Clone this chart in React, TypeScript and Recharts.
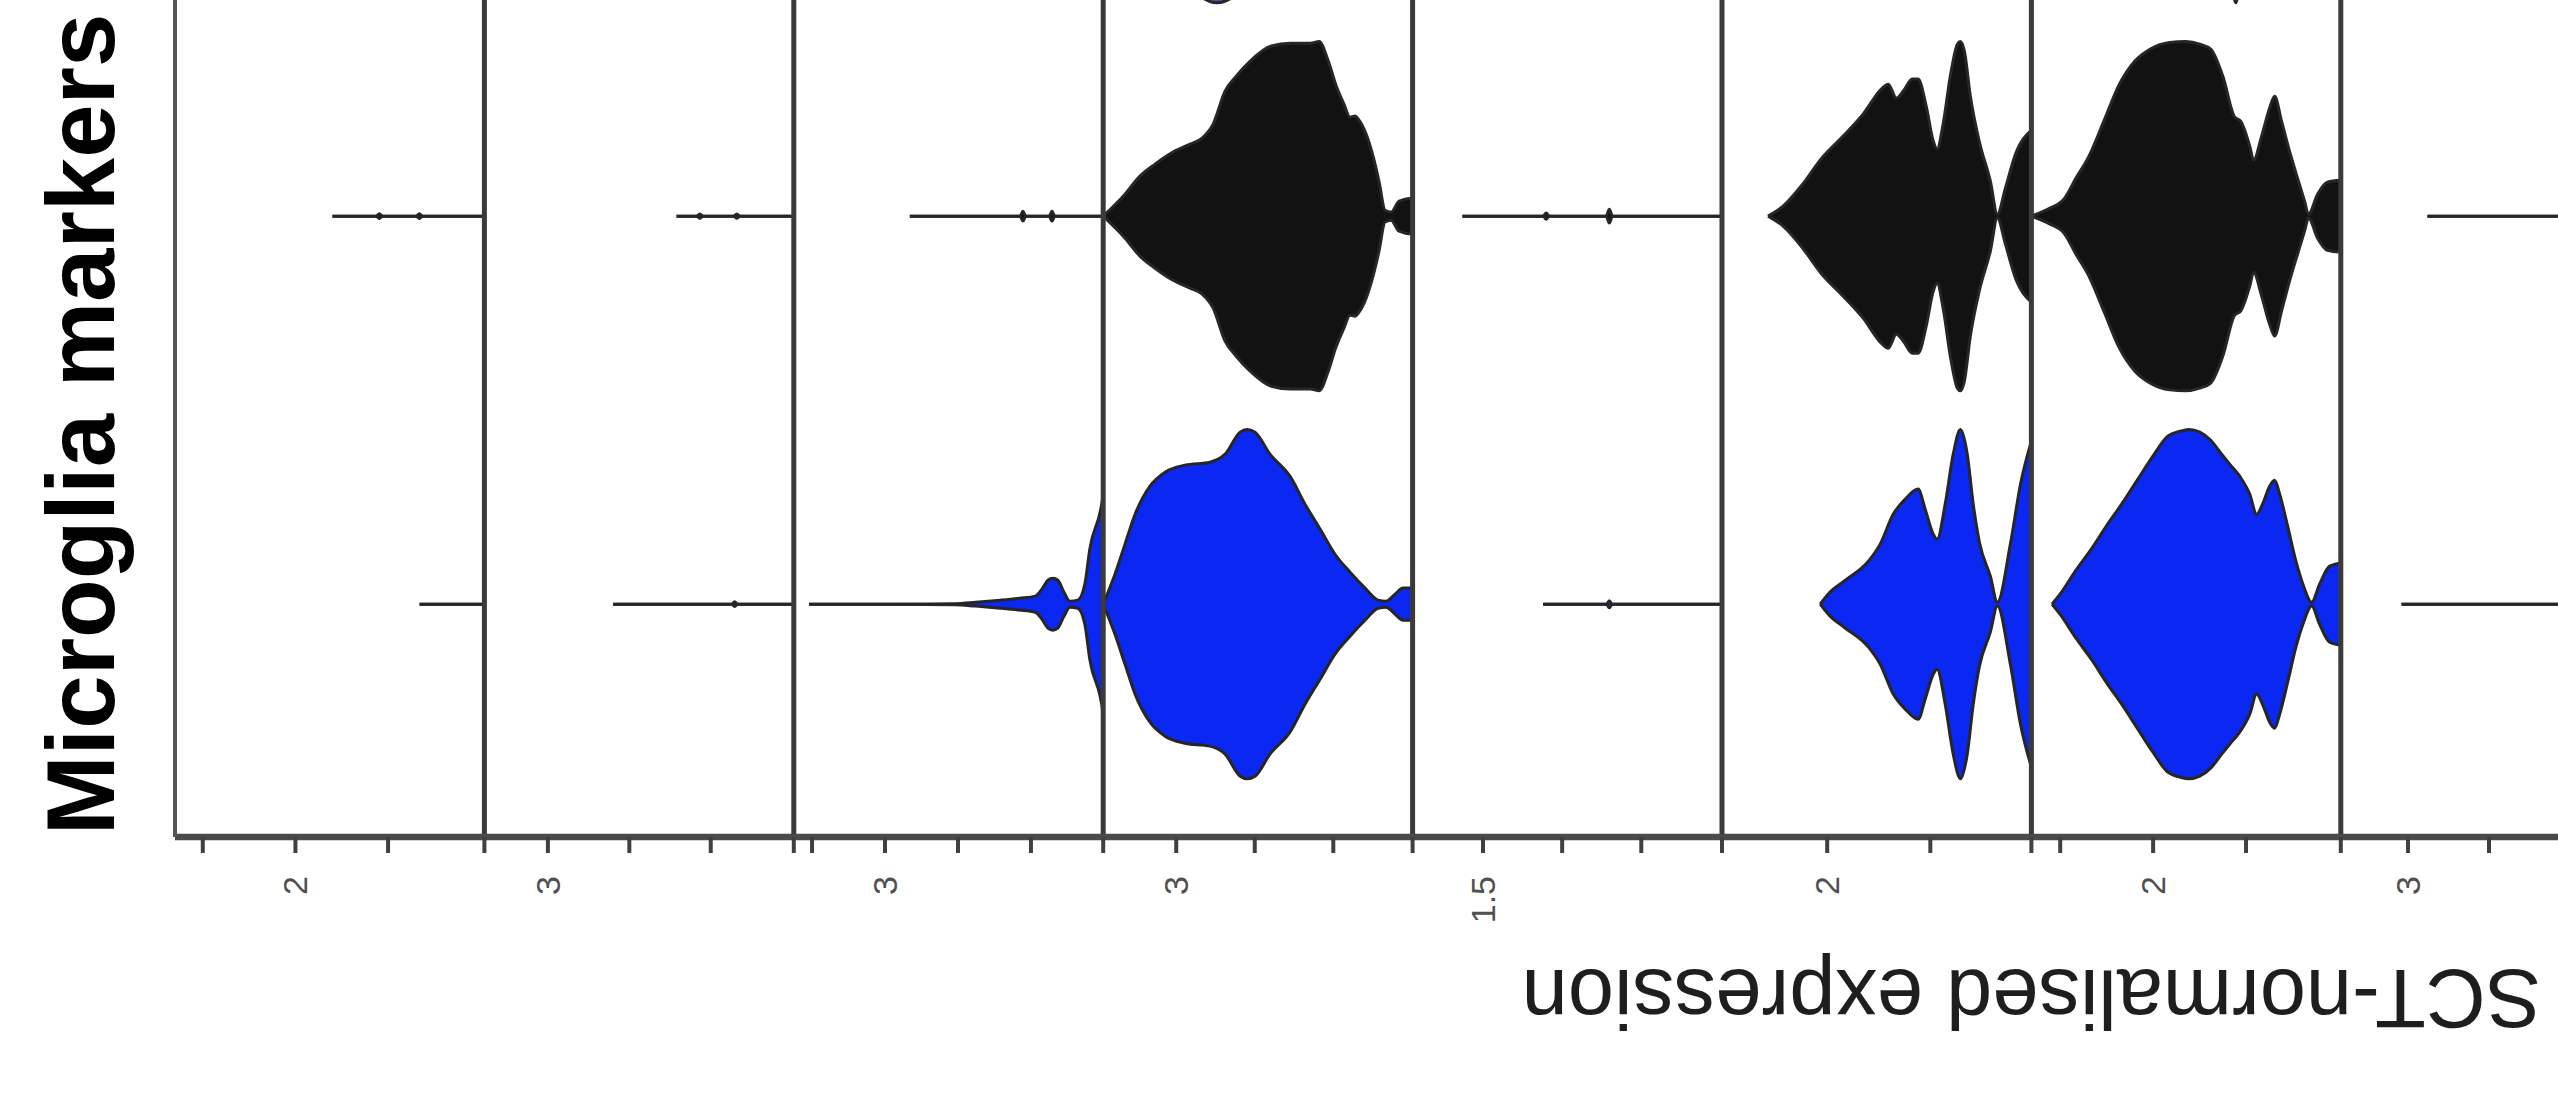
import React from "react";
import { ComposedChart, Area, XAxis, YAxis, ReferenceLine, Label } from "recharts";

type Pt = [number, number]; // [SCT-normalised expression, half width as share of the widest violin]

// one column per gene, each with its own expression range (free x scales)
const geneLo = [1.35, 2.61, 2.375, 2.535, 1.055, 1.49, 1.345, 2.585];
const geneHi = [3.02, 4.51, 4.495, 4.505, 3.01, 2.99, 3.01, 4.495];
const geneTicks = [
  [1.5, 2, 2.5, 3],
  [3, 3.5, 4, 4.5],
  [2.5, 3, 3.5, 4, 4.5],
  [3, 3.5, 4, 4.5],
  [1.5, 2, 2.5, 3],
  [1.5, 2, 2.5, 3],
  [1.5, 2, 2.5, 3],
  [3, 3.5, 4, 4.5],
];
const geneTickLabel = ["2", "3", "3", "3", "1.5", "2", "2", "3"];

// clusters (rows), bottom to top
const ROW_BLUE = 1;
const ROW_BLACK = 2;
const ROW_STEEL = 3;

// --- blue cluster ---
const blueG1: Pt[] = [[2.67, 0], [3.0, 0]];
const blueG2: Pt[] = [[3.4, 0], [4.13, 0], [4.147, 0.014], [4.165, 0], [4.5, 0]];
const blueG3: Pt[] = [
  [2.48, 0], [3.1, 0], [3.48, 0.003], [3.62, 0.011], [3.79, 0.023], [3.92, 0.034],
  [4.03, 0.046], [4.075, 0.086], [4.116, 0.137], [4.15, 0.149], [4.184, 0.137],
  [4.226, 0.069], [4.267, 0.017], [4.321, 0.023], [4.369, 0.115], [4.403, 0.315],
  [4.438, 0.63], [4.465, 0.916], [4.492, 1.0],
];
const blueG4: Pt[] = [
  [2.566, 0], [2.61, 0.172], [2.674, 0.344], [2.738, 0.515], [2.833, 0.676],
  [2.929, 0.756], [3.056, 0.796], [3.215, 0.813], [3.311, 0.859], [3.407, 0.985],
  [3.451, 1.0], [3.502, 0.985], [3.597, 0.859], [3.724, 0.733], [3.82, 0.573],
  [3.916, 0.43], [4.011, 0.286], [4.107, 0.183], [4.202, 0.092], [4.285, 0.023],
  [4.336, 0.017], [4.393, 0.057], [4.444, 0.092], [4.49, 0.092],
];
const blueG5: Pt[] = [[1.88, 0], [2.28, 0], [2.298, 0.02], [2.316, 0], [3.0, 0]];
const blueG6: Pt[] = [
  [1.966, 0], [2.014, 0.069], [2.082, 0.132], [2.204, 0.252], [2.257, 0.344],
  [2.32, 0.515], [2.378, 0.601], [2.441, 0.659], [2.475, 0.544], [2.514, 0.401],
  [2.533, 0.372], [2.572, 0.573], [2.611, 0.859], [2.646, 1.0], [2.679, 0.859],
  [2.708, 0.573], [2.738, 0.355], [2.791, 0.16], [2.825, 0.011], [2.888, 0.344],
  [2.937, 0.687], [2.99, 0.934],
];
const blueG7: Pt[] = [
  [1.456, 0], [1.499, 0.057], [1.585, 0.195], [1.671, 0.321], [1.751, 0.452],
  [1.838, 0.584], [1.918, 0.716], [1.999, 0.848], [2.079, 0.962], [2.144, 0.99],
  [2.192, 1.0], [2.251, 0.985], [2.31, 0.939], [2.369, 0.859], [2.412, 0.802],
  [2.466, 0.733], [2.52, 0.63], [2.557, 0.515], [2.589, 0.573], [2.627, 0.676],
  [2.654, 0.71], [2.681, 0.63], [2.724, 0.447], [2.767, 0.252], [2.81, 0.103],
  [2.853, 0.011], [2.896, 0.115], [2.95, 0.218], [3.003, 0.235],
];
const blueG8: Pt[] = [[2.96, 0], [4.49, 0]];

// --- black cluster ---
const blackG1: Pt[] = [[2.2, 0], [2.435, 0], [2.453, 0.014], [2.471, 0], [2.651, 0], [2.669, 0.014], [2.687, 0], [3.0, 0]];
const blackG2: Pt[] = [[3.79, 0], [3.915, 0], [3.933, 0.012], [3.951, 0], [4.142, 0], [4.16, 0.012], [4.178, 0], [4.5, 0]];
const blackG3: Pt[] = [[3.17, 0], [3.925, 0], [3.945, 0.028], [3.965, 0], [4.124, 0], [4.144, 0.028], [4.164, 0], [4.49, 0]];
const blackG4: Pt[] = [
  [2.578, 0], [2.674, 0.126], [2.769, 0.229], [2.865, 0.298], [2.98, 0.367],
  [3.088, 0.412], [3.165, 0.447], [3.235, 0.527], [3.311, 0.716], [3.382, 0.802],
  [3.471, 0.888], [3.605, 0.974], [3.726, 0.99], [3.853, 0.99], [3.91, 1.0],
  [3.968, 0.888], [4.017, 0.75], [4.068, 0.641], [4.106, 0.567], [4.138, 0.573],
  [4.164, 0.55], [4.209, 0.47], [4.253, 0.344], [4.291, 0.2], [4.329, 0.034],
  [4.368, 0.023], [4.419, 0.086], [4.457, 0.103], [4.489, 0.092],
];
const blackG5: Pt[] = [[1.37, 0], [1.88, 0], [1.899, 0.018], [1.918, 0], [2.278, 0], [2.298, 0.04], [2.318, 0], [3.0, 0]];
const blackG6: Pt[] = [
  [1.713, 0], [1.786, 0.057], [1.878, 0.178], [1.966, 0.321], [2.082, 0.464],
  [2.174, 0.584], [2.267, 0.733], [2.296, 0.756], [2.335, 0.676], [2.369, 0.716],
  [2.413, 0.785], [2.441, 0.785], [2.48, 0.63], [2.514, 0.43], [2.533, 0.384],
  [2.562, 0.527], [2.597, 0.802], [2.631, 0.985], [2.646, 1.0], [2.665, 0.945],
  [2.694, 0.687], [2.738, 0.424], [2.791, 0.2], [2.825, 0.011], [2.864, 0.16],
  [2.913, 0.355], [2.99, 0.493],
];
const blackG7: Pt[] = [
  [1.375, 0], [1.445, 0.046], [1.52, 0.097], [1.585, 0.218], [1.655, 0.344],
  [1.735, 0.544], [1.816, 0.75], [1.902, 0.888], [1.983, 0.956], [2.09, 0.995],
  [2.176, 1.0], [2.251, 0.985], [2.31, 0.956], [2.375, 0.802], [2.439, 0.567],
  [2.471, 0.544], [2.52, 0.401], [2.541, 0.321], [2.584, 0.458], [2.627, 0.619],
  [2.654, 0.687], [2.691, 0.544], [2.734, 0.372], [2.777, 0.218], [2.815, 0.086],
  [2.836, 0.011], [2.885, 0.126], [2.938, 0.195], [3.003, 0.206],
];
const blackG8: Pt[] = [[3.12, 0], [4.49, 0]];

// --- cluster above (only its lower tips are in view) ---
const steelG4: Pt[] = [[2.833, 0.3], [3.056, 0.8], [3.165, 0.97], [3.26, 1.0], [3.356, 0.97], [3.47, 0.85], [3.79, 0.4]];
const steelG7: Pt[] = [[2.36, 0.4], [2.42, 0.85], [2.445, 1.0], [2.47, 0.85], [2.53, 0.4]];

const BLUE = "#0b27f2";
const BLACK = "#121212";
const STEEL = "#3d5d9c";
const OUTLINE = "#262626";
const HALF = 0.45; // violin width 0.9 of a row

const W = 2558;
const H = 1113;
const PLOT_LEFT = 175;
const PANEL_PX = 309.4;
const X_MAX = (W - PLOT_LEFT) / PANEL_PX;
const N_GENES_TOTAL = 12; // full figure; the title sits at its centre

const FONT = "'Liberation Sans', Arial, Helvetica, sans-serif";

function toGlobal(gene: number, v: number) {
  const g = gene + (v - geneLo[gene]) / (geneHi[gene] - geneLo[gene]);
  const r = Math.round(g);
  return Math.abs(g - r) < 0.03 ? r : g;
}

const violins = [
  { key: "blue1", row: ROW_BLUE, gene: 0, pts: blueG1, fill: BLUE },
  { key: "blue2", row: ROW_BLUE, gene: 1, pts: blueG2, fill: BLUE },
  { key: "blue3", row: ROW_BLUE, gene: 2, pts: blueG3, fill: BLUE },
  { key: "blue4", row: ROW_BLUE, gene: 3, pts: blueG4, fill: BLUE },
  { key: "blue5", row: ROW_BLUE, gene: 4, pts: blueG5, fill: BLUE },
  { key: "blue6", row: ROW_BLUE, gene: 5, pts: blueG6, fill: BLUE },
  { key: "blue7", row: ROW_BLUE, gene: 6, pts: blueG7, fill: BLUE },
  { key: "blue8", row: ROW_BLUE, gene: 7, pts: blueG8, fill: BLUE },
  { key: "black1", row: ROW_BLACK, gene: 0, pts: blackG1, fill: BLACK },
  { key: "black2", row: ROW_BLACK, gene: 1, pts: blackG2, fill: BLACK },
  { key: "black3", row: ROW_BLACK, gene: 2, pts: blackG3, fill: BLACK },
  { key: "black4", row: ROW_BLACK, gene: 3, pts: blackG4, fill: BLACK },
  { key: "black5", row: ROW_BLACK, gene: 4, pts: blackG5, fill: BLACK },
  { key: "black6", row: ROW_BLACK, gene: 5, pts: blackG6, fill: BLACK },
  { key: "black7", row: ROW_BLACK, gene: 6, pts: blackG7, fill: BLACK },
  { key: "black8", row: ROW_BLACK, gene: 7, pts: blackG8, fill: BLACK },
  { key: "steel4", row: ROW_STEEL, gene: 3, pts: steelG4, fill: STEEL },
  { key: "steel7", row: ROW_STEEL, gene: 6, pts: steelG7, fill: STEEL },
];

const chartData: Record<string, any>[] = [];
violins.forEach((vl) => {
  vl.pts.forEach(([e, w]) => {
    chartData.push({ gx: toGlobal(vl.gene, e), [vl.key]: [vl.row - w * HALF, vl.row + w * HALF] });
  });
});

// axis ticks: gene boundaries + each gene's own breaks
const tickSet = new Set<number>();
for (let i = 1; i < geneLo.length; i++) tickSet.add(i);
geneTicks.forEach((ts, i) => ts.forEach((t) => tickSet.add(toGlobal(i, t))));
const xTicks = Array.from(tickSet).filter((t) => t > 0 && t <= X_MAX).sort((a, b) => a - b);
const tickLabels = geneTickLabel.map((lab, i) => ({ gx: toGlobal(i, parseFloat(lab)), text: lab }));

function ExprTick(props: any) {
  const { x, y, payload } = props;
  const hit = tickLabels.find((t) => Math.abs(t.gx - payload.value) < 1e-6);
  if (!hit) return <g />;
  const bx = x + 12;
  const top = y + 21;
  return (
    <text
      x={bx}
      y={top}
      transform={`rotate(-90 ${bx} ${top})`}
      textAnchor="end"
      fontSize={34}
      fill="#505050"
      fontFamily={FONT}
    >
      {hit.text}
    </text>
  );
}

export default function App() {
  return (
    <div
      style={{
        position: "absolute",
        left: 0,
        top: 0,
        width: W,
        height: H,
        overflow: "hidden",
        background: "#fff",
      }}
    >
      <ComposedChart
        width={W}
        height={H}
        data={chartData}
        margin={{ top: 0, right: 0, bottom: 216, left: 0 }}
      >
        <XAxis
          dataKey="gx"
          type="number"
          domain={[0, X_MAX]}
          allowDataOverflow
          ticks={xTicks}
          interval={0}
          height={60}
          tickSize={16}
          axisLine={{ stroke: "#4a4a4a", strokeWidth: 6.5 }}
          tickLine={{ stroke: "#404040", strokeWidth: 4 }}
          tick={ExprTick}
        >
          <Label
            content={(p: any) => {
              const vb = p.viewBox || { x: PLOT_LEFT, y: 837 };
              const cx = vb.x + (N_GENES_TOTAL / 2) * PANEL_PX;
              const by = vb.y + 133;
              return (
                <text
                  x={cx}
                  y={by}
                  transform={`rotate(180 ${cx} ${by})`}
                  textAnchor="middle"
                  fontSize={83}
                  fill="#1e1e1e"
                  fontFamily={FONT}
                >
                  SCT-normalised expression
                </text>
              );
            }}
          />
        </XAxis>
        <YAxis
          type="number"
          domain={[0.4, 2.557]}
          allowDataOverflow
          width={PLOT_LEFT}
          tick={false}
          tickLine={false}
          axisLine={{ stroke: "#555", strokeWidth: 4 }}
        >
          <Label
            content={(p: any) => {
              const vb = p.viewBox || { x: 0, y: 0, height: 837 };
              const bx = vb.x + 114;
              const cy = vb.y + vb.height / 2 + 6;
              return (
                <text
                  x={bx}
                  y={cy}
                  transform={`rotate(-90 ${bx} ${cy})`}
                  textAnchor="middle"
                  fontSize={96}
                  fontWeight="bold"
                  fill="#000"
                  fontFamily={FONT}
                >
                  Microglia markers
                </text>
              );
            }}
          />
        </YAxis>
        {violins.map((vl) => (
          <Area
            key={vl.key}
            dataKey={vl.key}
            type="monotone"
            fill={vl.fill}
            fillOpacity={1}
            stroke={OUTLINE}
            strokeWidth={3}
            dot={false}
            activeDot={false}
            isAnimationActive={false}
          />
        ))}
        {[1, 2, 3, 4, 5, 6, 7].map((b) => (
          <ReferenceLine key={b} x={b} stroke="#3a3a3a" strokeWidth={5} />
        ))}
      </ComposedChart>
    </div>
  );
}
